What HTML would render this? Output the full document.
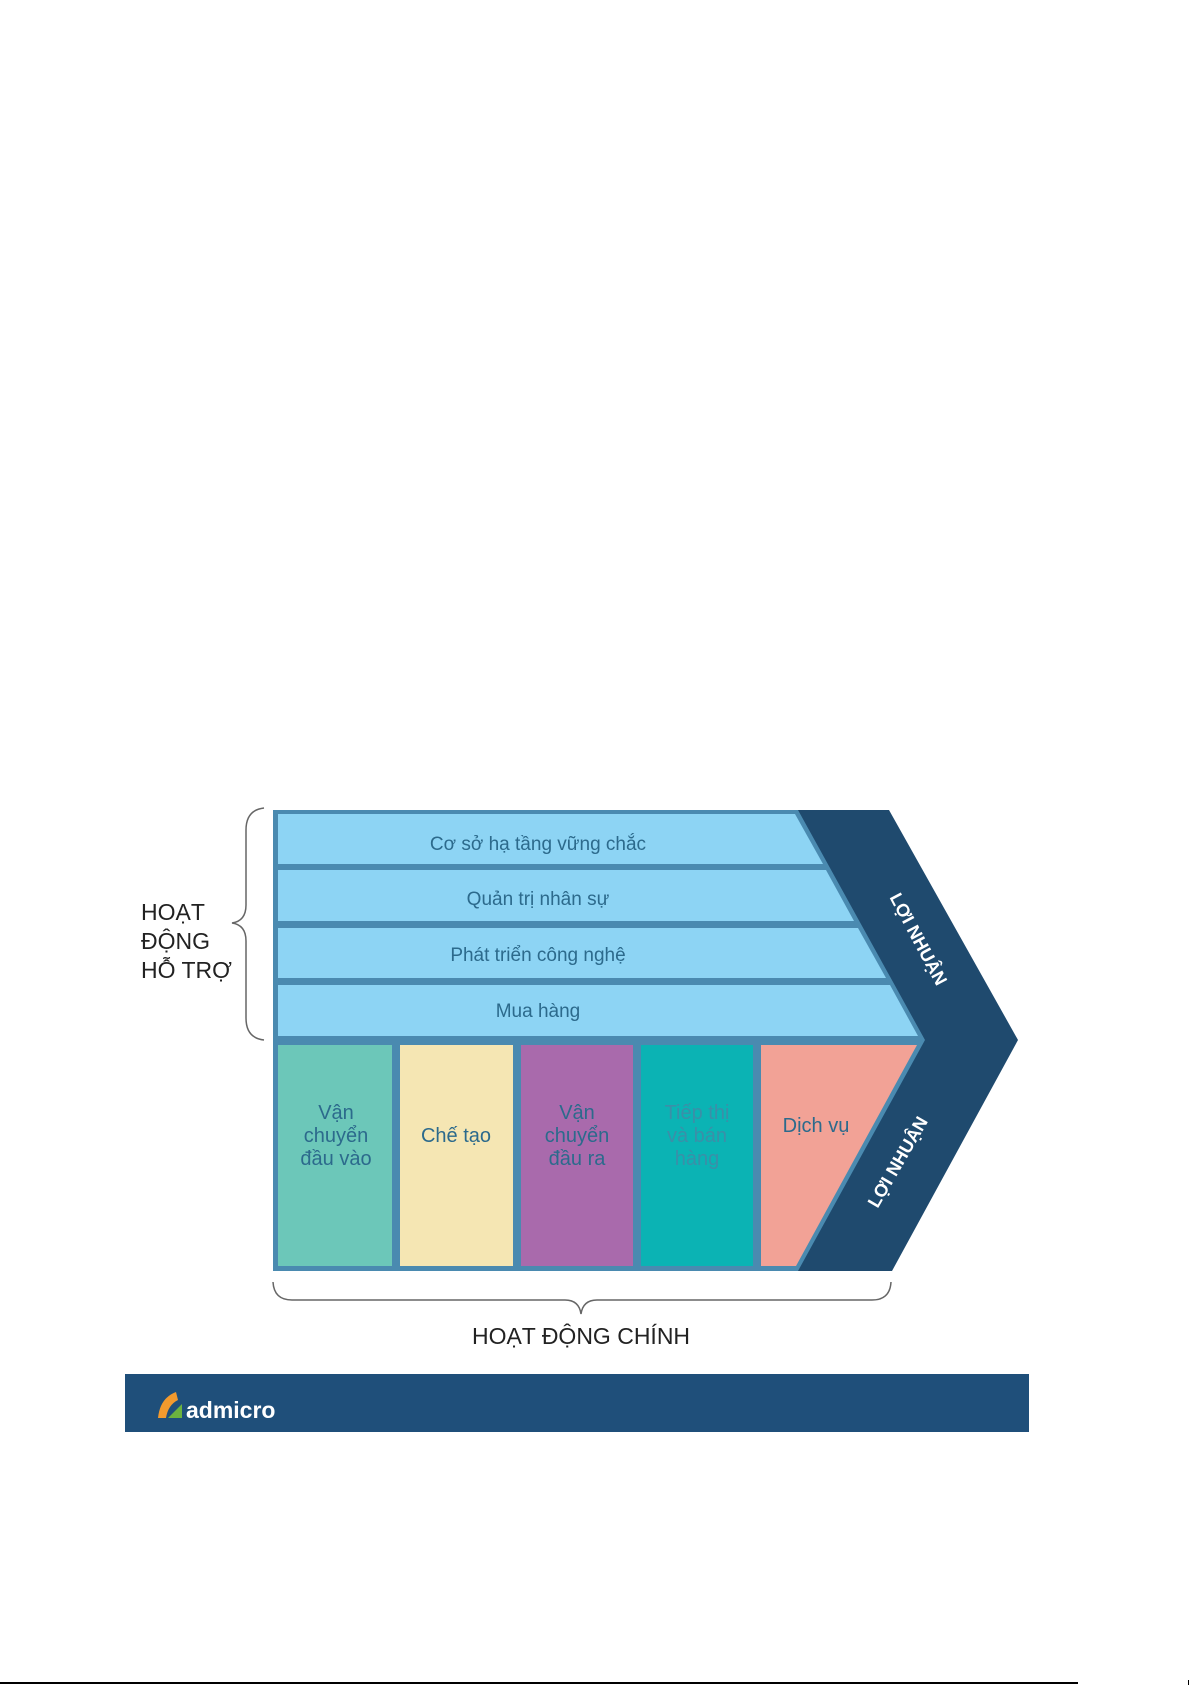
<!DOCTYPE html>
<html><head><meta charset="utf-8"><style>
html,body{margin:0;padding:0;background:#fff;}
svg{display:block;}
text{font-family:"Liberation Sans",sans-serif;}
</style></head><body>
<svg width="1192" height="1685" viewBox="0 0 1192 1685" xmlns="http://www.w3.org/2000/svg">
<rect width="1192" height="1685" fill="#fff"/>
<!-- border base -->
<polygon points="273,810 800,810 927,1040 800,1271 273,1271" fill="#4a8ab0"/>
<!-- dark chevron -->
<polygon points="798,810 889,810 1018,1040 892,1271 798,1271 925,1040" fill="#1f4a6e"/>
<!-- rows -->
<polygon points="278,814 795,814 823,864 278,864" fill="#8dd4f4"/>
<polygon points="278,870 826,870 854,921 278,921" fill="#8dd4f4"/>
<polygon points="278,928 858,928 886,978 278,978" fill="#8dd4f4"/>
<polygon points="278,985 890,985 918,1036 278,1036" fill="#8dd4f4"/>
<!-- columns -->
<rect x="278" y="1045" width="114" height="221" fill="#6cc7b9"/>
<rect x="400" y="1045" width="113" height="221" fill="#f5e6b3"/>
<rect x="521" y="1045" width="112" height="221" fill="#a96aac"/>
<rect x="641" y="1045" width="112" height="221" fill="#0bb3b4"/>
<polygon points="761,1045 917,1045 796,1266 761,1266" fill="#f2a296"/>
<!-- row texts -->
<g font-size="19" fill="#2c6a8c" text-anchor="middle">
<text x="538" y="850">Cơ sở hạ tầng vững chắc</text>
<text x="538" y="905">Quản trị nhân sự</text>
<text x="538" y="961">Phát triển công nghệ</text>
<text x="538" y="1017">Mua hàng</text>
</g>
<g font-size="20" text-anchor="middle" fill="#2c6a8c">
<text x="336" y="1119">Vận</text><text x="336" y="1142">chuyển</text><text x="336" y="1165">đầu vào</text>
<text x="456" y="1142">Chế tạo</text>
<text x="577" y="1119">Vận</text><text x="577" y="1142">chuyển</text><text x="577" y="1165">đầu ra</text>
<text x="697" y="1119" fill="#3b8fa8">Tiếp thị</text><text x="697" y="1142" fill="#3b8fa8">và bán</text><text x="697" y="1165" fill="#3b8fa8">hàng</text>
<text x="816" y="1132">Dịch vụ</text>
</g>
<!-- profit labels -->
<text x="0" y="0" font-size="18" font-weight="bold" fill="#fff" text-anchor="middle" transform="translate(913,942) rotate(62)">LỢI NHUẬN</text>
<text x="0" y="0" font-size="18" font-weight="bold" fill="#fff" text-anchor="middle" transform="translate(903,1165) rotate(-60)">LỢI NHUẬN</text>
<!-- left brace -->
<path d="M264,808 Q246,810 246,830 L246,905 Q246,921 232,923 Q246,925 246,941 L246,1018 Q246,1038 264,1040" fill="none" stroke="#666" stroke-width="1.5"/>
<g font-size="23" fill="#222">
<text x="141" y="920">HOẠT</text>
<text x="141" y="949">ĐỘNG</text>
<text x="141" y="978">HỖ TRỢ</text>
</g>
<!-- bottom brace -->
<path d="M273,1282 Q274,1300 292,1300 L565,1300 Q579,1300 581,1314 Q583,1300 597,1300 L872,1300 Q890,1300 891,1282" fill="none" stroke="#666" stroke-width="1.5"/>
<text x="581" y="1344" font-size="23" fill="#222" text-anchor="middle">HOẠT ĐỘNG CHÍNH</text>
<!-- banner -->
<rect x="125" y="1374" width="904" height="58" fill="#1f4f7a"/>
<path d="M158,1418 Q160,1398 176,1392 L178,1400 Q168,1405 166,1418 Z" fill="#f29a2e"/>
<polygon points="168,1418 182,1404 182,1418" fill="#6cb33f"/>
<text x="186" y="1418" font-size="23" font-weight="bold" fill="#fff">admicro</text>
<!-- bottom line -->
<rect x="0" y="1682" width="1078" height="2" fill="#000"/>
<rect x="1188" y="1680" width="1" height="5" fill="#000"/>
</svg>
</body></html>
